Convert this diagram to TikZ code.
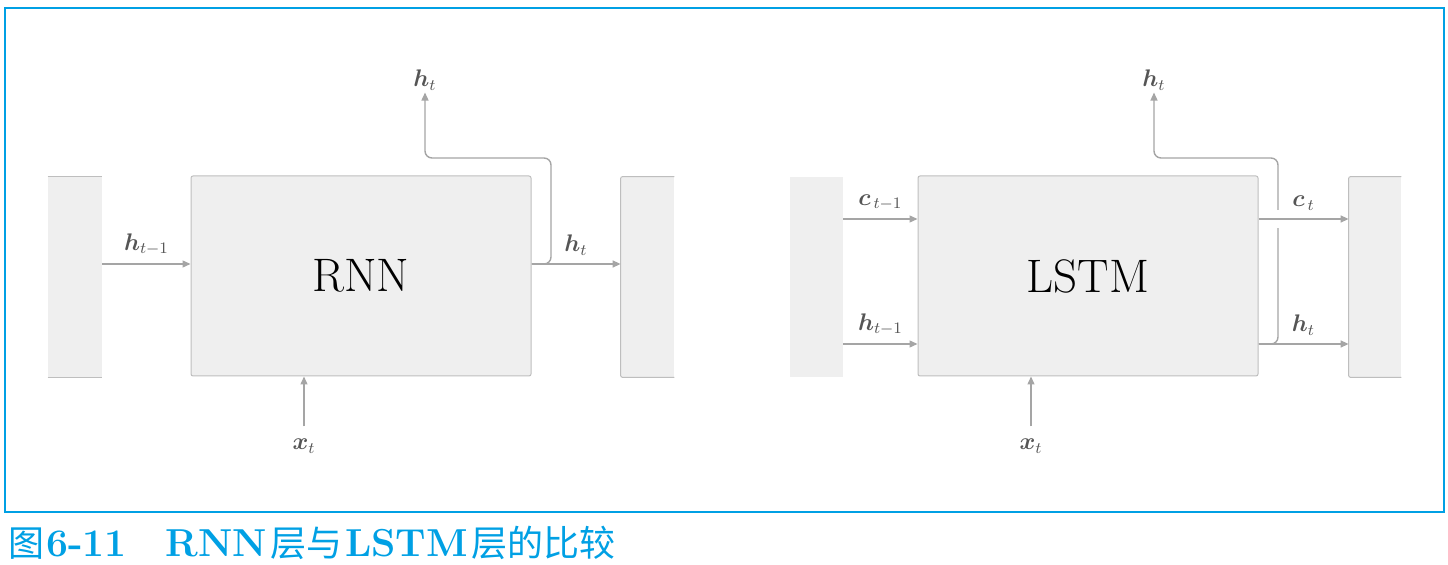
\documentclass[tikz,border=0pt]{standalone}
\usepackage{amsmath}
\usepackage{fontspec}
\newfontfamily\cjk{Noto Sans CJK SC}
\usetikzlibrary{arrows.meta,positioning}

\definecolor{framecyan}{RGB}{0,160,228}
\definecolor{boxfill}{RGB}{239,239,239}
\definecolor{boxline}{RGB}{190,190,190}
\definecolor{arrgray}{RGB}{165,165,165}
\definecolor{lblgray}{RGB}{85,85,85}
\newcommand{\captxt}[1]{{\cjk\mdseries\fontsize{18}{22}\selectfont #1}}

\begin{document}
\begin{tikzpicture}[x=0.5pt,y=-0.5pt,>={Triangle[length=4pt,width=3.5pt]},
		arr/.style={->,draw=arrgray,line width=0.7pt,rounded corners=3.5pt},
		layer/.style={draw=boxline,fill=boxfill,line width=0.5pt,rounded corners=1pt,
			minimum width=170pt,minimum height=100pt,inner sep=0pt,
			font=\fontsize{23.5}{28}\selectfont},
		part/.style={fill=boxfill,minimum width=26.5pt,minimum height=100pt,inner sep=0pt},
		edgeline/.style={draw=boxline,line width=0.5pt,rounded corners=1pt},
		lbl/.style={text=lblgray,font=\large,inner sep=1pt},
		gap/.style={draw=white,line width=2.5pt}]
	\useasboundingbox (0,0) rectangle (1448,565);
	\draw[framecyan,line width=0.6pt] (5,8) rectangle (1444,512);

	% RNN
	\node[layer] (rnn) at (361,276) {RNN};
	\node[part, minimum width=27pt] (pl) at (75,277) {};
	\node[part] (pr) at (647.5,277) {};
	\draw[edgeline] (pl.north west) -- (pl.north east) (pl.south west) -- (pl.south east);
	\draw[edgeline] (pr.north east) -- (pr.north west) -- (pr.south west) -- (pr.south east);

	\node[lbl] (htop) at (425,80) {$\boldsymbol{h}_t$};
	\node[lbl] (xrnn) at (304,446) {$\boldsymbol{x}_t$};

	\path (pl.east |- 0,264) edge[arr] node[lbl,above=3pt] {$\boldsymbol{h}_{t-1}$} (rnn.west |- 0,264)
	(rnn.east |- 0,264) edge[arr] node[lbl,above=3pt] {$\boldsymbol{h}_t$} (pr.west |- 0,264);
	\draw[arr] (rnn.east |- 0,264) -| (551,158) -| (htop.south);
	\draw[arr, shorten <=5pt] (xrnn.north) -- (xrnn.north |- rnn.south);

	% LSTM
	\node[layer] (lstm) at (1088,276) {LSTM};
	\node[part] (ql) at (816.5,277) {};
	\node[part, minimum width=26pt] (qr) at (1375,277) {};
	\draw[edgeline] (qr.north east) -- (qr.north west) -- (qr.south west) -- (qr.south east);

	\node[lbl] (htop2) at (1154,80) {$\boldsymbol{h}_t$};
	\node[lbl] (xlstm) at (1031,446) {$\boldsymbol{x}_t$};
	\coordinate (cross) at (1278,219);

	\draw[arr] (lstm.east |- 0,344) -| (1278,158) -| (htop2.south);
	\draw[gap] ([yshift=4.5pt]cross) -- ([yshift=-4.5pt]cross);
	\path (ql.east |- 0,219) edge[arr] node[lbl,above=3pt] {$\boldsymbol{c}_{\,t-1}$} (lstm.west |- 0,219)
	(ql.east |- 0,344) edge[arr] node[lbl,above=3pt] {$\boldsymbol{h}_{t-1}$} (lstm.west |- 0,344)
	(lstm.east |- 0,219) edge[arr] node[lbl,above=3pt] {$\boldsymbol{c}_{\,t}$} (qr.west |- 0,219)
	(lstm.east |- 0,344) edge[arr] node[lbl,above=3pt] {$\boldsymbol{h}_t$} (qr.west |- 0,344);
	\draw[arr, shorten <=5pt] (xlstm.north) -- (xlstm.north |- lstm.south);

	% caption
	\node[anchor=base west,text=framecyan,inner sep=0pt,font=\fontsize{19.5}{22}\selectfont\bfseries] (cap) at (8,557)
	{\captxt{图}\kern1pt 6-11\hspace{1em}RNN\kern1.5pt\captxt{层与}\kern1.5pt LSTM\kern1.5pt\captxt{层的比较}};
\end{tikzpicture}
\end{document}
